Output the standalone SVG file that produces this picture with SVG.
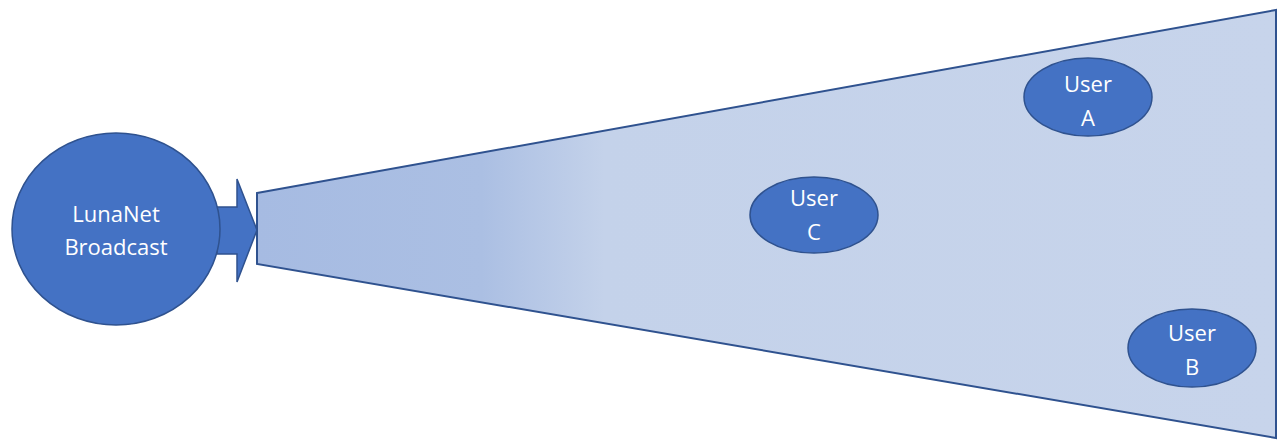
<svg xmlns="http://www.w3.org/2000/svg" width="1278" height="442" viewBox="0 0 1278 442">
<style>
.n{fill:#4472c4;stroke:#2f528f;stroke-width:1.5}
.t{fill:#ffffff;font-family:"Open Sans","Liberation Sans",sans-serif;font-size:22px;text-anchor:middle}
</style>
<defs>
<linearGradient id="g" gradientUnits="userSpaceOnUse" x1="257" y1="0" x2="1278" y2="0">
<stop offset="0" stop-color="#a6bbe2"/>
<stop offset="0.22" stop-color="#abbfe3"/>
<stop offset="0.34" stop-color="#c4d2ea"/>
<stop offset="1" stop-color="#c7d4eb"/>
</linearGradient>
</defs>
<rect width="1278" height="442" fill="#ffffff"/>
<g id="beam">
<polygon points="257,193 1276,10 1276,438 257,264" fill="url(#g)" stroke="#2f528f" stroke-width="2"/>
</g>
<g id="connectors">
<polygon class="n" points="217,207 237,207 237,179 257,230 237,282 237,254 217,254"/>
</g>
<g id="lunanet">
<ellipse class="n" cx="116" cy="229" rx="104" ry="96"/>
<text class="t" x="116" y="222">LunaNet</text>
<text class="t" x="116" y="255">Broadcast</text>
</g>
<g id="userA">
<ellipse class="n" cx="1088" cy="97" rx="64" ry="39"/>
<text class="t" x="1088" y="92">User</text>
<text class="t" x="1088" y="126">A</text>
</g>
<g id="userC">
<ellipse class="n" cx="814" cy="215" rx="64" ry="38"/>
<text class="t" x="814" y="206">User</text>
<text class="t" x="814" y="240">C</text>
</g>
<g id="userB">
<ellipse class="n" cx="1192" cy="348" rx="64" ry="39"/>
<text class="t" x="1192" y="341">User</text>
<text class="t" x="1192" y="375">B</text>
</g>
</svg>
